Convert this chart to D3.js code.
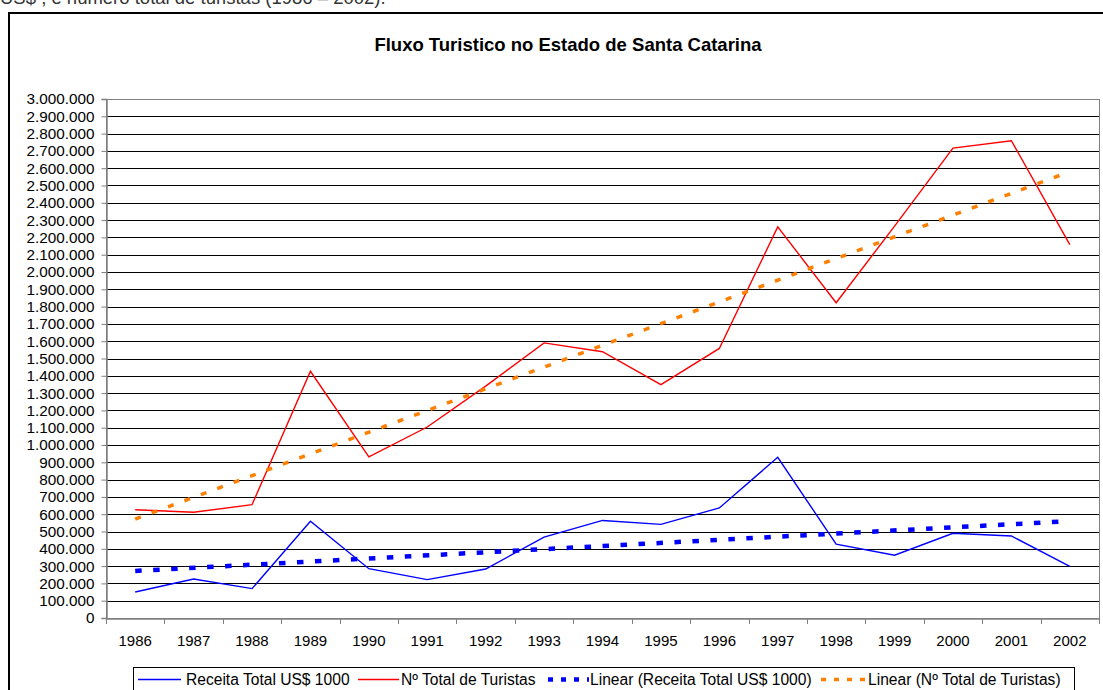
<!DOCTYPE html>
<html><head><meta charset="utf-8">
<script src="https://cdn.jsdelivr.net/npm/d3@7"></script>
<style>
html,body{margin:0;padding:0;background:#fff;overflow:hidden;}
svg{display:block;font-family:"Liberation Sans",Arial,sans-serif;}
</style></head>
<body>
<svg id="chart" width="1103" height="690"></svg>
<script>
const years = ["1986","1987","1988","1989","1990","1991","1992","1993","1994","1995","1996","1997","1998","1999","2000","2001","2002"];
const receita = [150000,225000,170000,559000,285000,222000,283000,468000,564000,541000,636000,929000,427000,363000,490000,474000,298000];
const turistas = [626000,611000,655000,1426000,931000,1104000,1340000,1590000,1539000,1349000,1558000,2261000,1822000,2265000,2716000,2759000,2158000];
// trend line end points (first and last year)
const trendYears = ["1986","2002"];
const trendReceita = [272000,560000];
const trendTuristas = [572000,2580000];
const yTicks = [0,100000,200000,300000,400000,500000,600000,700000,800000,900000,1000000,1100000,1200000,1300000,1400000,1500000,1600000,1700000,1800000,1900000,2000000,2100000,2200000,2300000,2400000,2500000,2600000,2700000,2800000,2900000,3000000];
const titleText = "Fluxo Turistico no Estado de Santa Catarina";
const topText = "US$ , e número total de turistas (1986 – 2002).";
const legendLabels = ["Receita Total US$ 1000","Nº Total de Turistas","Linear (Receita Total US$ 1000)","Linear (Nº Total de Turistas)"];

const svg = d3.select("#chart");
const L = 106, R = 1099, T = 99, B = 618;
const x = d3.scaleBand().domain(years).range([L, R]).padding(0);
const y = d3.scaleLinear().domain([0, 3000000]).range([B, T]);
const cx = d => x(d) + x.bandwidth()/2;
const fmt = d3.formatLocale({decimal:",", thousands:".", grouping:[3], currency:["",""]}).format(",d");

// cut-off line of text above (only its lower part is visible)
svg.append("text").attr("x", 0).attr("y", 4).attr("font-size", 18.5).attr("fill", "#333").text(topText);

// outer chart border
svg.append("rect").attr("x", 9).attr("y", 13).attr("width", 1110).attr("height", 700)
  .attr("fill", "none").attr("stroke", "#000").attr("stroke-width", 2);

// title
svg.append("text").attr("x", 568).attr("y", 51).attr("text-anchor", "middle")
  .attr("font-size", 18.5).attr("font-weight", "bold").text(titleText);

// gridlines
svg.append("g").selectAll("line").data(yTicks.filter(v => v > 0)).join("line")
  .attr("x1", L).attr("x2", R).attr("y1", d => Math.round(y(d)) + 0.5).attr("y2", d => Math.round(y(d)) + 0.5)
  .attr("stroke", "#000").attr("stroke-width", 1);

// plot area border
svg.append("rect").attr("x", L + 0.5).attr("y", Math.round(T) + 0.5).attr("width", R - L).attr("height", B - Math.round(T))
  .attr("fill", "none").attr("stroke", "#808080").attr("stroke-width", 1);

// y axis
const yAxis = svg.append("g").attr("transform", `translate(${L + 0.5},0)`)
  .call(d3.axisLeft(y).tickValues(yTicks).tickFormat(fmt).tickSize(5).tickPadding(7));
yAxis.select(".domain").attr("stroke", "#808080").attr("stroke-width", 1.5);
yAxis.selectAll(".tick line").attr("stroke", "#808080");
yAxis.selectAll(".tick text").attr("font-size", 15.3).attr("font-family", "Liberation Sans, Arial, sans-serif").attr("fill", "#000");

// x axis
const xAxis = svg.append("g").attr("transform", `translate(0,${B + 0.5})`)
  .call(d3.axisBottom(x).tickSize(0).tickPadding(17));
xAxis.select(".domain").attr("stroke", "#808080").attr("stroke-width", 1.5);
xAxis.selectAll(".tick text").attr("font-size", 15).attr("font-family", "Liberation Sans, Arial, sans-serif").attr("fill", "#000");
svg.append("g").selectAll("line").data(years.concat(["end"])).join("line")
  .attr("x1", (d, i) => i < years.length ? Math.round(x(d)) + 0.5 : R + 0.5)
  .attr("x2", (d, i) => i < years.length ? Math.round(x(d)) + 0.5 : R + 0.5)
  .attr("y1", B).attr("y2", B + 6).attr("stroke", "#808080");

// lines
const line = d3.line().x(d => cx(d[0])).y(d => y(d[1]));
svg.append("path").datum(years.map((yy, i) => [yy, turistas[i]]))
  .attr("d", line).attr("fill", "none").attr("stroke", "#FF0000").attr("stroke-width", 1.4);
svg.append("path").datum(years.map((yy, i) => [yy, receita[i]]))
  .attr("d", line).attr("fill", "none").attr("stroke", "#0000FF").attr("stroke-width", 1.4);
svg.append("path").datum(trendYears.map((yy, i) => [yy, trendReceita[i]]))
  .attr("d", line).attr("fill", "none").attr("stroke", "#0000FF").attr("stroke-width", 4.5)
  .attr("stroke-dasharray", "6.5,11.5");
svg.append("path").datum(trendYears.map((yy, i) => [yy, trendTuristas[i]]))
  .attr("d", line).attr("fill", "none").attr("stroke", "#FF8000").attr("stroke-width", 3.5)
  .attr("stroke-dasharray", "6,11.5");

// legend
const lg = svg.append("g");
lg.append("rect").attr("x", 133.5).attr("y", 667.5).attr("width", 941).attr("height", 30)
  .attr("fill", "#fff").attr("stroke", "#000").attr("stroke-width", 1);
const items = [
  {x1: 138, x2: 181, tx: 186, color: "#0000FF", w: 1.6, dash: null},
  {x1: 358, x2: 399, tx: 401, color: "#FF0000", w: 1.6, dash: null},
  {x1: 548, x2: 589, tx: 590, color: "#0000FF", w: 4.5, dash: "5,8"},
  {x1: 821, x2: 866, tx: 868, color: "#FF8000", w: 3.5, dash: "5,8"}
];
items.forEach((it, i) => {
  lg.append("line").attr("x1", it.x1).attr("x2", it.x2).attr("y1", 679.5).attr("y2", 679.5)
    .attr("stroke", it.color).attr("stroke-width", it.w).attr("stroke-dasharray", it.dash);
  lg.append("text").attr("x", it.tx).attr("y", 685).attr("font-size", 15.6).text(legendLabels[i]);
});
</script>
</body></html>
